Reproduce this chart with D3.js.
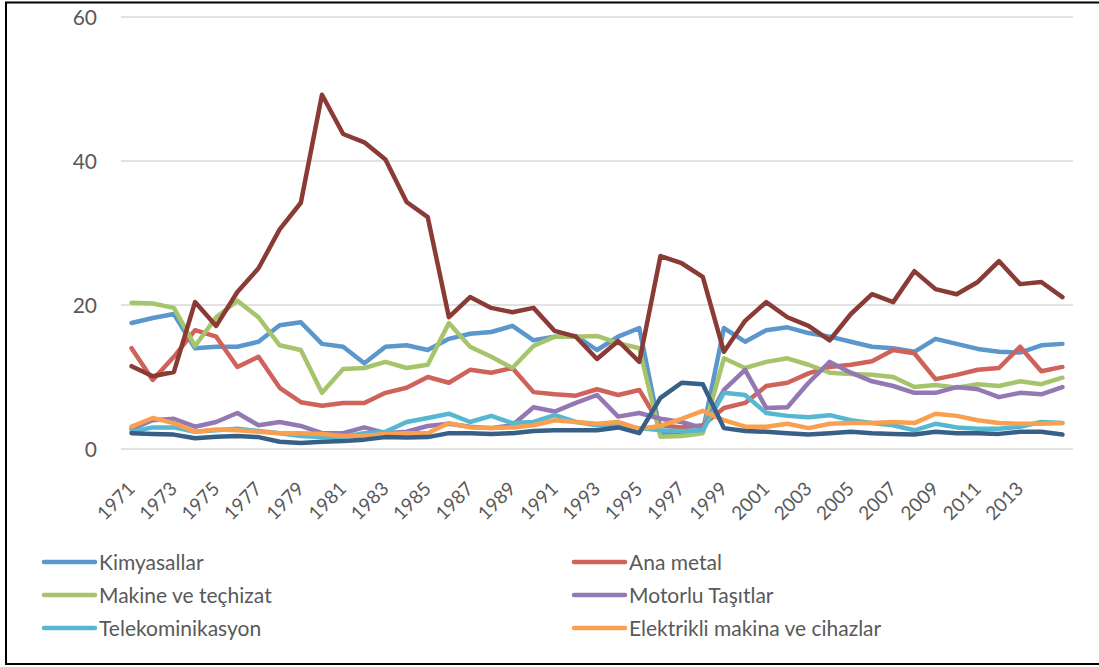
<!DOCTYPE html>
<html>
<head>
<meta charset="utf-8">
<script src="https://cdn.jsdelivr.net/npm/d3@7"></script>
<style>
  html, body { margin: 0; padding: 0; background: #fff; }
  svg { display: block; }
  text { font-family: Lato, "Open Sans", sans-serif; fill: #595959; }
</style>
</head>
<body>
<svg id="chart" width="1099" height="667"></svg>
<script>
const years = d3.range(1971, 2016);
const yTicks = [0, 20, 40, 60];
const xTickLabels = d3.range(1971, 2014, 2);

const seriesNames = ["Kimyasallar", "Ana metal", "Makine ve teçhizat", "Motorlu Taşıtlar",
  "Telekominikasyon", "Elektrikli makina ve cihazlar", "Diğer 1", "Diğer 2"];
const seriesColors = ["#5B96CC", "#CF625A", "#A6C46B", "#9378B4", "#55B8D0", "#F9A050", "#8B3B35", "#375F88"];

const kimyasallar = [17.5,18.2,18.75,14.0,14.2,14.2,14.9,17.2,17.6,14.6,14.2,11.9,14.2,14.4,13.75,15.3,16.0,16.25,17.1,15.1,15.6,15.7,13.75,15.6,16.8,2.2,2.2,2.4,16.8,14.9,16.5,16.9,16.1,15.6,14.9,14.2,14.0,13.5,15.3,14.6,13.9,13.5,13.4,14.4,14.6];
const anaMetal = [14.0,9.6,12.8,16.5,15.6,11.4,12.8,8.5,6.5,6.0,6.4,6.4,7.8,8.5,10.0,9.2,11.0,10.6,11.25,7.9,7.6,7.4,8.3,7.5,8.2,3.3,3.0,3.3,5.7,6.4,8.75,9.2,10.5,11.4,11.7,12.2,13.75,13.3,9.7,10.3,11.0,11.25,14.2,10.8,11.4];
const makine = [20.3,20.2,19.6,14.3,18.3,20.6,18.3,14.4,13.75,7.8,11.1,11.25,12.1,11.25,11.7,17.5,14.2,12.8,11.25,14.3,15.6,15.6,15.7,14.7,14.0,1.7,1.8,2.2,12.6,11.25,12.1,12.6,11.7,10.6,10.4,10.3,10.0,8.6,8.9,8.5,9.0,8.75,9.4,9.0,9.9];
const motorlu = [2.8,4.0,4.2,3.1,3.75,5.0,3.3,3.75,3.2,2.2,2.2,3.0,2.2,2.4,3.2,3.5,3.1,2.9,3.3,5.8,5.2,6.4,7.5,4.5,5.0,4.2,3.75,2.9,8.2,11.0,5.7,5.8,9.2,12.1,10.6,9.4,8.75,7.8,7.8,8.6,8.3,7.2,7.8,7.6,8.6];
const telekom = [2.4,3.0,3.0,2.4,2.6,2.8,2.5,2.2,1.8,1.65,1.7,2.2,2.4,3.75,4.3,4.9,3.75,4.6,3.6,3.75,4.7,3.75,3.3,3.2,2.9,2.6,2.5,2.6,7.8,7.5,5.0,4.6,4.4,4.7,4.0,3.6,3.3,2.6,3.5,3.0,2.8,2.8,3.1,3.75,3.6];
const elektrikli = [3.1,4.3,3.6,2.4,2.7,2.6,2.4,2.2,2.2,2.1,1.8,1.8,2.1,2.2,2.2,3.6,3.0,2.9,3.0,3.3,4.0,3.75,3.5,3.75,2.8,3.2,4.2,5.3,4.0,3.1,3.1,3.5,2.9,3.5,3.6,3.6,3.75,3.6,4.9,4.6,4.0,3.6,3.5,3.5,3.6];
const diger1 = [11.5,10.1,10.7,20.4,17.1,21.8,25.1,30.5,34.2,49.2,43.75,42.6,40.2,34.3,32.2,18.3,21.1,19.6,19.0,19.6,16.4,15.6,12.5,15.0,12.1,26.8,25.8,23.9,13.5,17.8,20.4,18.3,17.1,15.1,18.75,21.5,20.4,24.7,22.2,21.5,23.2,26.1,22.9,23.2,21.1];
const diger2 = [2.2,2.1,2.0,1.5,1.7,1.8,1.65,1.0,0.85,1.0,1.1,1.3,1.65,1.6,1.65,2.2,2.2,2.1,2.2,2.5,2.6,2.6,2.6,3.0,2.2,7.1,9.2,9.0,2.9,2.5,2.4,2.2,2.0,2.2,2.4,2.2,2.1,2.0,2.4,2.2,2.2,2.1,2.4,2.4,2.0];

const seriesValues = [kimyasallar, anaMetal, makine, motorlu, telekom, elektrikli, diger1, diger2];
const legendCount = 6;

const svg = d3.select("#chart");

// outer border
svg.append("path")
  .attr("d", "M1100,2.5 H6 V664 H1100")
  .attr("fill", "none").attr("stroke", "#000").attr("stroke-width", 2);

const x = d3.scalePoint().domain(years).range([121, 1073]).padding(0.5);
const y = d3.scaleLinear().domain([0, 60]).range([449, 17]);

// gridlines
svg.append("g").selectAll("line").data(yTicks).join("line")
  .attr("x1", 121).attr("x2", 1073)
  .attr("y1", d => y(d)).attr("y2", d => y(d))
  .attr("stroke", "#D9D9D9").attr("stroke-width", 1.5);

// y axis labels
const yAxis = d3.axisLeft(y).tickValues(yTicks).tickSize(0).tickPadding(0);
const gy = svg.append("g").attr("transform", "translate(97,0)").call(yAxis);
gy.select(".domain").remove();
gy.selectAll("text").attr("font-size", 21).attr("fill", "#595959")
  .style("font-family", "Lato, 'Open Sans', sans-serif").attr("dy", "0.36em");

// x axis labels
const xAxis = d3.axisBottom(x).tickValues(xTickLabels).tickSize(0).tickPadding(0);
const gx = svg.append("g").attr("transform", "translate(0,449)").call(xAxis);
gx.select(".domain").remove();
gx.selectAll("text")
  .attr("font-size", 19).attr("fill", "#595959")
  .style("font-family", "Lato, 'Open Sans', sans-serif")
  .attr("text-anchor", "end")
  .attr("dy", 0).attr("y", 0)
  .attr("transform", "translate(4,41) rotate(-45)");

// lines
const line = d3.line().x((d, i) => x(years[i])).y(d => y(d));
svg.append("g").selectAll("path").data(seriesValues).join("path")
  .attr("d", d => line(d))
  .attr("fill", "none")
  .attr("stroke", (d, i) => seriesColors[i])
  .attr("stroke-width", 4.5)
  .attr("stroke-linejoin", "round")
  .attr("stroke-linecap", "round");

// legend
const leg = svg.append("g");
for (let i = 0; i < legendCount; i++) {
  const col = i % 2, row = Math.floor(i / 2);
  const lx = col === 0 ? 44 : 574;
  const ly = 562 + row * 33;
  const g = leg.append("g").attr("transform", `translate(${lx},${ly})`);
  g.append("line").attr("x1", 0).attr("x2", 51).attr("y1", 0).attr("y2", 0)
    .attr("stroke", seriesColors[i]).attr("stroke-width", 4.5).attr("stroke-linecap", "round");
  g.append("text").attr("x", 55).attr("y", 0).attr("dy", "0.36em")
    .attr("font-size", 21).text(seriesNames[i]);
}
</script>
</body>
</html>
